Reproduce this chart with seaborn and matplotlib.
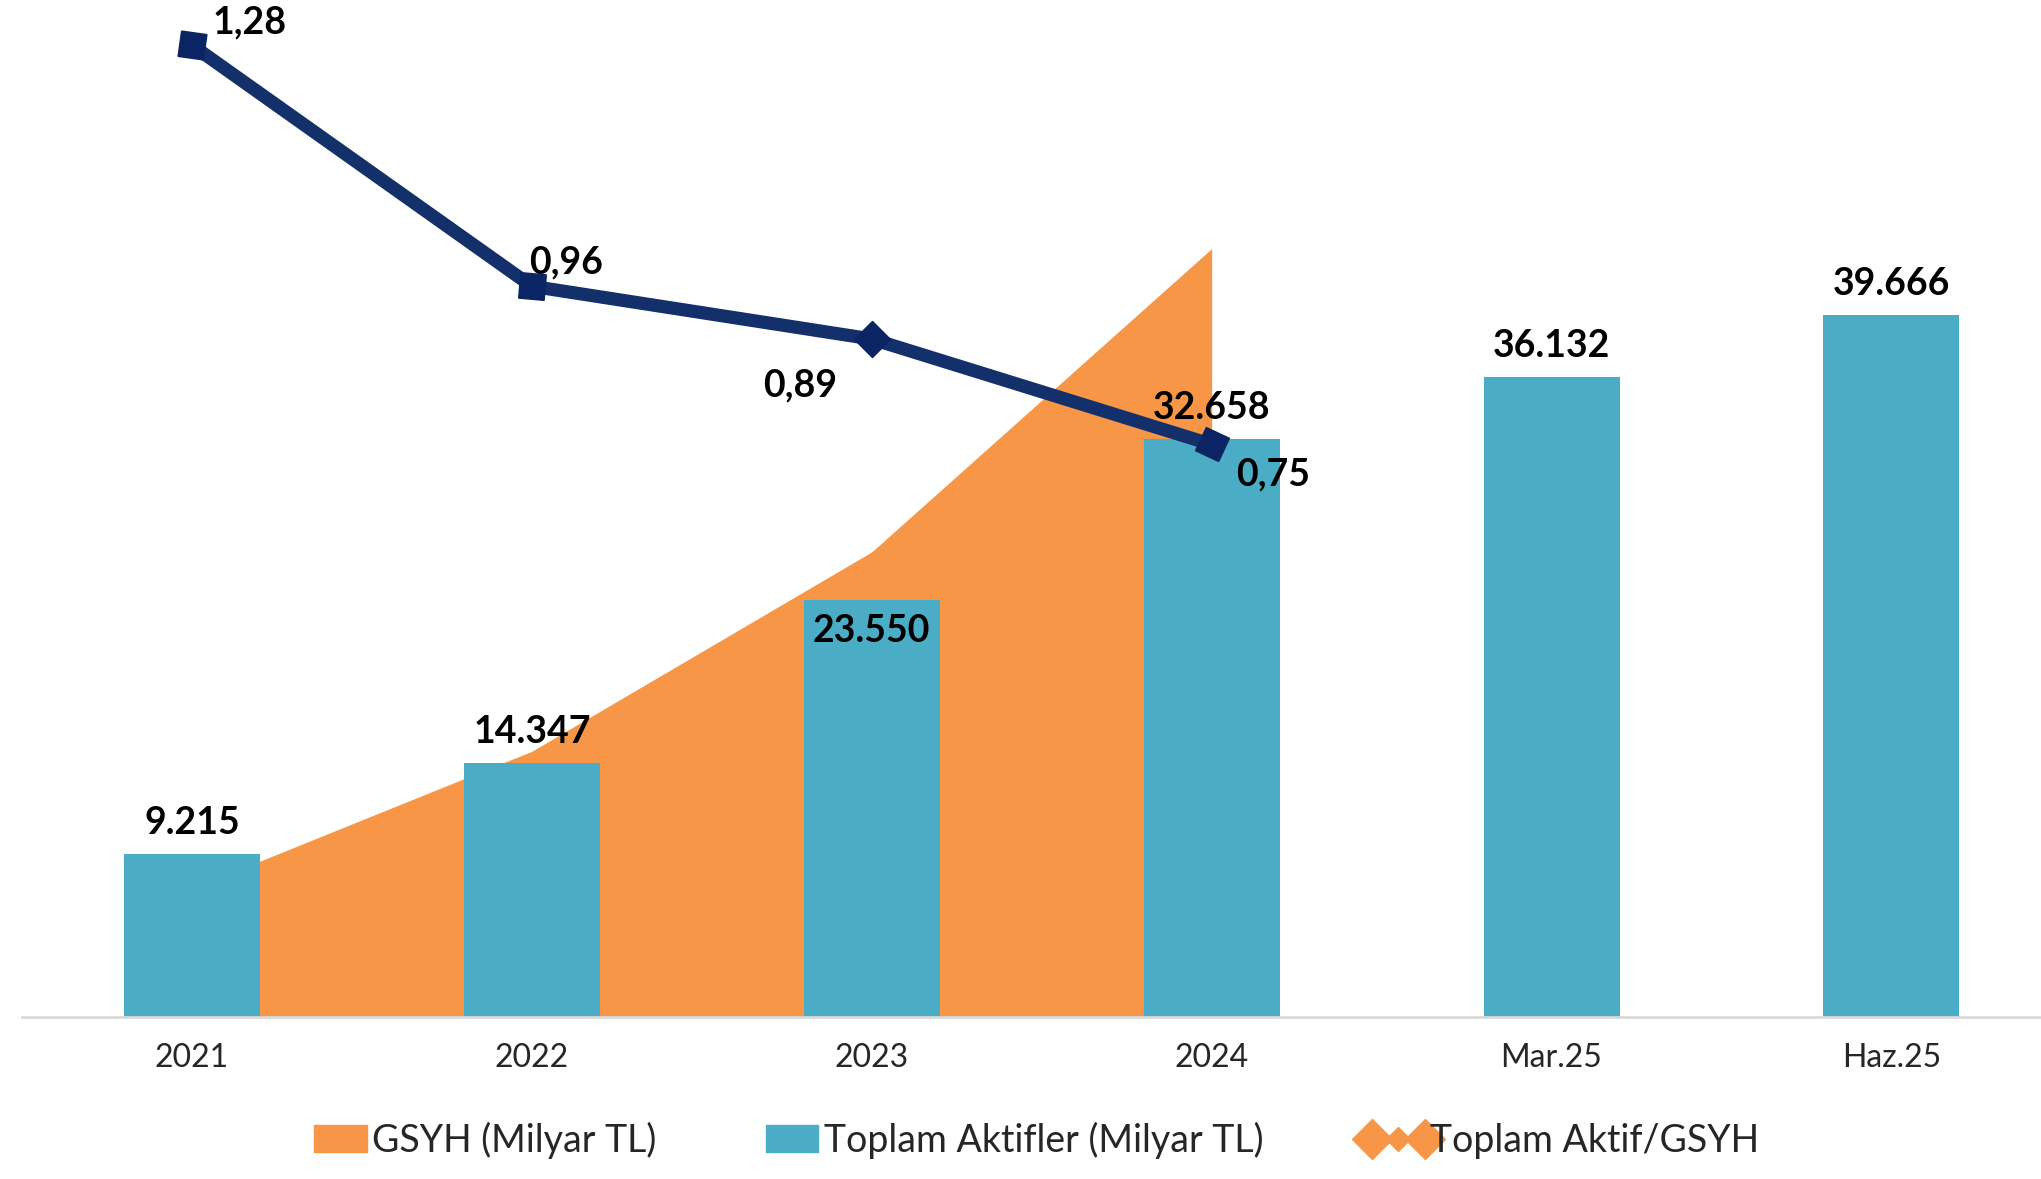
import seaborn as sns
import pandas as pd
import matplotlib
matplotlib.use("Agg")
from matplotlib import pyplot as plt
from matplotlib.lines import Line2D
from matplotlib.patches import Patch
from matplotlib.legend_handler import HandlerLine2D

# data
periods = ["2021", "2022", "2023", "2024", "Mar.25", "Haz.25"]
assets = [9215, 14347, 23550, 32658, 36132, 39666]
gdp_years = ["2021", "2022", "2023", "2024"]
gdp = [7256, 15012, 26276, 43411]
ratio = [1.28, 0.96, 0.89, 0.75]

BAR = "#4BACC6"
AREA = "#F79646"
LINE = "#14306A"
MARK = "#0B2463"


def tr_int(v):
    return f"{v:,}".replace(",", ".")


def tr_dec(v):
    return f"{v:.2f}".replace(".", ",")


def main():
    sns.set_theme(style="white")
    plt.rcParams["font.family"] = ["Lato", "DejaVu Sans"]

    df = pd.DataFrame({"Dönem": periods, "Aktif": assets})

    fig = plt.figure(figsize=(20.41, 11.79), dpi=100)
    ax = fig.add_axes([0.0108, 0.1374, 0.9892, 0.8626])

    # GSYH area behind the bars
    gx = [periods.index(p) for p in gdp_years]
    ax.fill_between(gx, 0, gdp, color=AREA, lw=0, zorder=1)

    sns.barplot(df, x="Dönem", y="Aktif", color=BAR, width=0.4,
                saturation=1, linewidth=0, ax=ax, zorder=2)

    for i, v in enumerate(assets):
        if i == 2:
            ax.text(i, v - 1750, tr_int(v), ha="center", va="center",
                    fontsize=27, fontweight="bold", color="black", zorder=5)
        else:
            ax.text(i, v + 1750, tr_int(v), ha="center", va="center",
                    fontsize=27, fontweight="bold", color="black", zorder=5)

    ax.set_xlim(-0.5, 5.44)
    ax.set_ylim(0, 57450)
    ax.set_xlabel("")
    ax.set_ylabel("")
    ax.set_yticks([])
    ax.tick_params(axis="x", length=0, labelsize=23, pad=19)
    for s in ["top", "right", "left"]:
        ax.spines[s].set_visible(False)
    ax.spines["bottom"].set_color("#D9D9D9")
    ax.spines["bottom"].set_linewidth(2)

    # ratio line on secondary axis
    ax2 = ax.twinx()
    sns.lineplot(x=gx, y=ratio, ax=ax2, color=LINE, lw=9.5, sort=False,
                 zorder=3)
    angles = [37, 40, 0, 20]
    for x, y, a in zip(gx, ratio, angles):
        ax2.plot([x], [y], marker=(4, 0, a), ms=26, color=MARK, lw=0,
                 zorder=4)
    offs = [(0.17, 0.03), (0.10, 0.032), (-0.21, -0.062), (0.18, -0.04)]
    for x, y, (dx, dy) in zip(gx, ratio, offs):
        ax2.text(x + dx, y + dy, tr_dec(y), ha="center", va="center",
                 fontsize=27, fontweight="bold", color="black", zorder=5)
    ax2.set_ylim(-0.01, 1.34)
    ax2.set_yticks([])
    ax2.set_ylabel("")
    for s in ax2.spines.values():
        s.set_visible(False)

    # legend
    big = Line2D([], [], color=AREA, lw=0, marker="D", ms=20)
    small = Line2D([], [], color=AREA, lw=0, marker="D", ms=12.5)
    handles = [Patch(color=AREA), Patch(color=BAR), (big, small)]
    labels = ["GSYH (Milyar TL)", "Toplam Aktifler (Milyar TL)",
              "Toplam Aktif/GSYH"]
    fig.legend(handles, labels, loc="center", bbox_to_anchor=(0.508, 0.033),
               ncol=3, frameon=False, fontsize=27,
               handlelength=1.4, handleheight=0.7, handletextpad=0.15,
               columnspacing=2.9,
               handler_map={big: HandlerLine2D(numpoints=2, marker_pad=0.0),
                            small: HandlerLine2D(numpoints=1)})

    fig.savefig("out.png", dpi=100)


main()
